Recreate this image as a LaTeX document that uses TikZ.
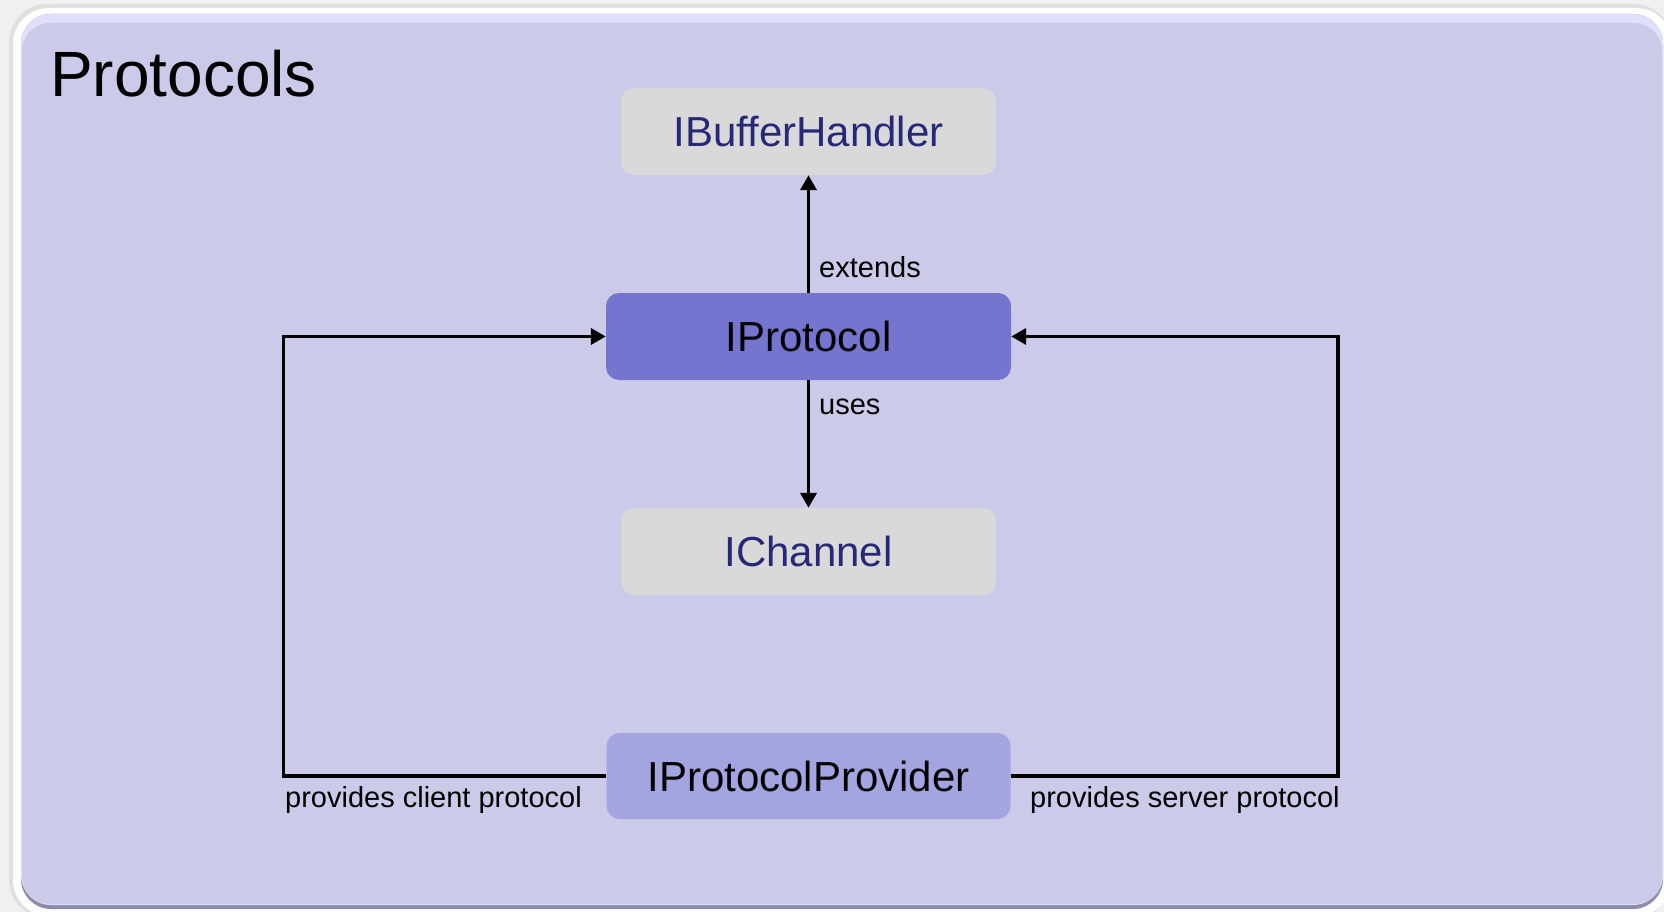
\documentclass[tikz,border=0pt]{standalone}
\usepackage{fontspec}
\setmainfont{Liberation Sans}
\usetikzlibrary{arrows.meta}
\definecolor{panel}{RGB}{203,203,233}
\definecolor{panellight}{RGB}{224,224,252}
\definecolor{panelshadow}{RGB}{140,140,170}
\definecolor{graybox}{RGB}{217,217,217}
\definecolor{protofill}{RGB}{117,117,208}
\definecolor{providerfill}{RGB}{164,164,224}
\definecolor{navytext}{RGB}{40,40,120}
\definecolor{outerbg}{RGB}{240,240,240}
\begin{document}
\begin{tikzpicture}[x=1pt,y=-1pt,
  box/.style={rounded corners=13pt, minimum height=87pt, inner sep=0pt,
    font=\fontsize{42}{48}\selectfont},
  grayboxstyle/.style={box, fill=graybox, text=navytext, minimum width=375pt},
  protobox/.style={box, fill=protofill, text=black, minimum width=405pt},
  providerbox/.style={box, fill=providerfill, text=black, minimum width=404pt, minimum height=86pt},
  conn/.style={line width=3.6pt, -{Triangle[length=15pt,width=16pt]}},
  lbl/.style={inner sep=0pt, font=\fontsize{29}{34}\selectfont, text=black}
]
\useasboundingbox (0,0) rectangle (1664,912);
% frame
\fill[outerbg] (0,0) rectangle (1664,912);
\fill[black!12, rounded corners=38pt] (9,4) rectangle (1672,918);
\fill[white, rounded corners=36pt] (13,8) rectangle (1672,916);
\fill[panelshadow, rounded corners=30pt] (21,14) rectangle (1663,909);
\fill[panellight, rounded corners=30pt] (21,14) rectangle (1663,905);
\fill[panel, rounded corners=28pt] (22,23) rectangle (1662,904);

% title
\node[anchor=base west, inner sep=0pt, font=\fontsize{64}{70}\selectfont] (title) at (50,97) {Protocols};

% nodes
\node[grayboxstyle] (buf) at (808.5,131.5) {IBufferHandler};
\node[protobox] (proto) at (808.5,336.5) {IProtocol};
\node[grayboxstyle] (chan) at (808.5,551.5) {IChannel};
\node[providerbox] (prov) at (808.5,776) {IProtocolProvider};

% connectors
\draw[conn] (proto.north) -- (buf.south);
\draw[conn] (proto.south) -- (chan.north);
\draw[conn] (prov.west) -- ++(-323,0) coordinate (cl) |- (proto.west);
\draw[conn] (prov.east) -- ++(327,0) coordinate (cr) |- (proto.east);

% labels
\node[lbl, anchor=base west] (lext) at (819,277) {extends};
\node[lbl, anchor=base west] (luse) at (819,414) {uses};
\node[lbl, anchor=base west] (lcli) at (285,807) {provides client protocol};
\node[lbl, anchor=base west] (lsrv) at (1030,807) {provides server protocol};
\end{tikzpicture}
\end{document}
